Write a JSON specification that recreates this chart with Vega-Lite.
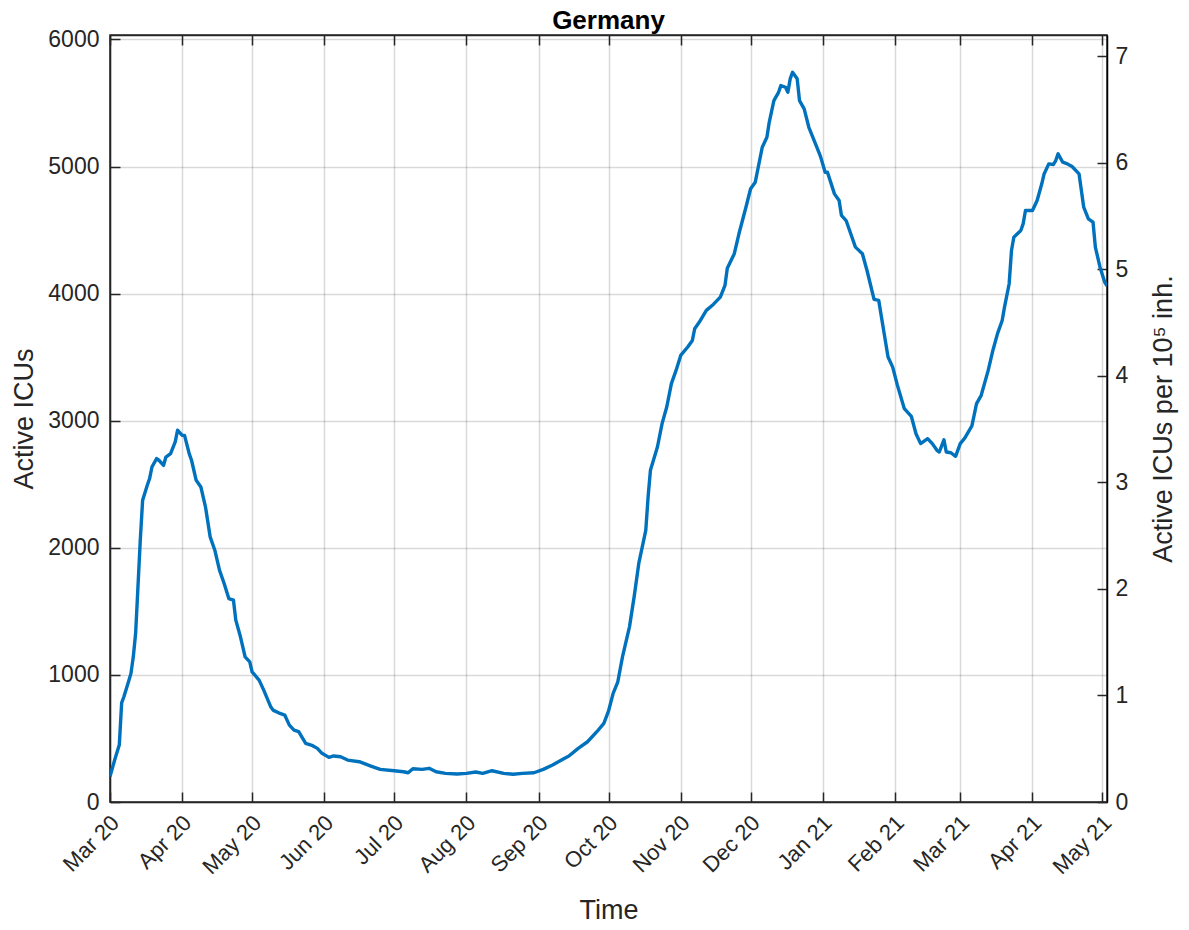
{
  "$schema": "https://vega.github.io/schema/vega-lite/v6.json",
  "width": 997,
  "height": 767,
  "autosize": {"type": "none"},
  "padding": {"left": 110, "top": 35, "right": 82, "bottom": 128},
  "background": "white",
  "title": {"text": "Germany", "fontSize": 26, "fontWeight": "bold", "color": "#000000", "font": "Liberation Sans", "offset": -6, "anchor": "middle"},
  "datasets": {
    "icu": [
      {"date": "2020-03-01", "icu": 200}, {"date": "2020-03-03", "icu": 330}, {"date": "2020-03-05", "icu": 450},
      {"date": "2020-03-06", "icu": 780}, {"date": "2020-03-07", "icu": 830}, {"date": "2020-03-09", "icu": 950},
      {"date": "2020-03-10", "icu": 1012}, {"date": "2020-03-11", "icu": 1142}, {"date": "2020-03-12", "icu": 1328},
      {"date": "2020-03-13", "icu": 1693}, {"date": "2020-03-14", "icu": 2060}, {"date": "2020-03-15", "icu": 2374},
      {"date": "2020-03-17", "icu": 2492}, {"date": "2020-03-18", "icu": 2545}, {"date": "2020-03-19", "icu": 2636},
      {"date": "2020-03-21", "icu": 2702}, {"date": "2020-03-22", "icu": 2689}, {"date": "2020-03-24", "icu": 2649},
      {"date": "2020-03-25", "icu": 2714}, {"date": "2020-03-27", "icu": 2741}, {"date": "2020-03-29", "icu": 2833},
      {"date": "2020-03-30", "icu": 2925}, {"date": "2020-04-01", "icu": 2885}, {"date": "2020-04-02", "icu": 2885},
      {"date": "2020-04-04", "icu": 2741}, {"date": "2020-04-05", "icu": 2689}, {"date": "2020-04-07", "icu": 2531},
      {"date": "2020-04-09", "icu": 2479}, {"date": "2020-04-11", "icu": 2321}, {"date": "2020-04-13", "icu": 2086},
      {"date": "2020-04-15", "icu": 1981}, {"date": "2020-04-17", "icu": 1824}, {"date": "2020-04-19", "icu": 1719},
      {"date": "2020-04-21", "icu": 1601}, {"date": "2020-04-23", "icu": 1588}, {"date": "2020-04-24", "icu": 1431},
      {"date": "2020-04-26", "icu": 1300}, {"date": "2020-04-28", "icu": 1142}, {"date": "2020-04-30", "icu": 1103},
      {"date": "2020-05-01", "icu": 1024}, {"date": "2020-05-04", "icu": 959}, {"date": "2020-05-06", "icu": 880},
      {"date": "2020-05-09", "icu": 749}, {"date": "2020-05-10", "icu": 723}, {"date": "2020-05-13", "icu": 697},
      {"date": "2020-05-15", "icu": 684}, {"date": "2020-05-17", "icu": 605}, {"date": "2020-05-19", "icu": 566},
      {"date": "2020-05-21", "icu": 553}, {"date": "2020-05-24", "icu": 461}, {"date": "2020-05-27", "icu": 443},
      {"date": "2020-05-29", "icu": 422}, {"date": "2020-05-31", "icu": 383}, {"date": "2020-06-03", "icu": 351},
      {"date": "2020-06-05", "icu": 362}, {"date": "2020-06-08", "icu": 356}, {"date": "2020-06-11", "icu": 330},
      {"date": "2020-06-16", "icu": 317}, {"date": "2020-06-21", "icu": 283}, {"date": "2020-06-25", "icu": 257},
      {"date": "2020-07-01", "icu": 246}, {"date": "2020-07-05", "icu": 238}, {"date": "2020-07-07", "icu": 230},
      {"date": "2020-07-09", "icu": 262}, {"date": "2020-07-13", "icu": 257}, {"date": "2020-07-16", "icu": 265},
      {"date": "2020-07-19", "icu": 238}, {"date": "2020-07-23", "icu": 225}, {"date": "2020-07-28", "icu": 220},
      {"date": "2020-08-01", "icu": 225}, {"date": "2020-08-05", "icu": 236}, {"date": "2020-08-08", "icu": 225},
      {"date": "2020-08-12", "icu": 246}, {"date": "2020-08-17", "icu": 225}, {"date": "2020-08-21", "icu": 218},
      {"date": "2020-08-25", "icu": 225}, {"date": "2020-08-30", "icu": 230}, {"date": "2020-09-03", "icu": 257},
      {"date": "2020-09-07", "icu": 291}, {"date": "2020-09-12", "icu": 343}, {"date": "2020-09-14", "icu": 362},
      {"date": "2020-09-18", "icu": 422}, {"date": "2020-09-22", "icu": 474}, {"date": "2020-09-26", "icu": 553},
      {"date": "2020-09-29", "icu": 619}, {"date": "2020-10-01", "icu": 715}, {"date": "2020-10-03", "icu": 855},
      {"date": "2020-10-05", "icu": 946}, {"date": "2020-10-07", "icu": 1142}, {"date": "2020-10-10", "icu": 1378},
      {"date": "2020-10-12", "icu": 1614}, {"date": "2020-10-14", "icu": 1877}, {"date": "2020-10-17", "icu": 2138},
      {"date": "2020-10-18", "icu": 2400}, {"date": "2020-10-19", "icu": 2610}, {"date": "2020-10-22", "icu": 2793},
      {"date": "2020-10-24", "icu": 2977}, {"date": "2020-10-26", "icu": 3108}, {"date": "2020-10-28", "icu": 3292},
      {"date": "2020-10-30", "icu": 3396}, {"date": "2020-11-01", "icu": 3514}, {"date": "2020-11-04", "icu": 3580},
      {"date": "2020-11-06", "icu": 3632}, {"date": "2020-11-07", "icu": 3724}, {"date": "2020-11-09", "icu": 3776},
      {"date": "2020-11-12", "icu": 3868}, {"date": "2020-11-15", "icu": 3915}, {"date": "2020-11-18", "icu": 3972},
      {"date": "2020-11-20", "icu": 4065}, {"date": "2020-11-21", "icu": 4200}, {"date": "2020-11-24", "icu": 4314},
      {"date": "2020-11-26", "icu": 4471}, {"date": "2020-11-29", "icu": 4680}, {"date": "2020-12-01", "icu": 4825},
      {"date": "2020-12-03", "icu": 4877}, {"date": "2020-12-04", "icu": 4969}, {"date": "2020-12-06", "icu": 5152},
      {"date": "2020-12-08", "icu": 5230}, {"date": "2020-12-09", "icu": 5348}, {"date": "2020-12-11", "icu": 5519},
      {"date": "2020-12-13", "icu": 5584}, {"date": "2020-12-14", "icu": 5637}, {"date": "2020-12-16", "icu": 5624},
      {"date": "2020-12-17", "icu": 5584}, {"date": "2020-12-18", "icu": 5690}, {"date": "2020-12-19", "icu": 5742},
      {"date": "2020-12-21", "icu": 5690}, {"date": "2020-12-22", "icu": 5519}, {"date": "2020-12-24", "icu": 5454},
      {"date": "2020-12-26", "icu": 5309}, {"date": "2020-12-28", "icu": 5218}, {"date": "2020-12-31", "icu": 5080},
      {"date": "2021-01-02", "icu": 4955}, {"date": "2021-01-03", "icu": 4955}, {"date": "2021-01-06", "icu": 4785},
      {"date": "2021-01-08", "icu": 4733}, {"date": "2021-01-09", "icu": 4615}, {"date": "2021-01-11", "icu": 4575},
      {"date": "2021-01-13", "icu": 4471}, {"date": "2021-01-15", "icu": 4366}, {"date": "2021-01-18", "icu": 4314},
      {"date": "2021-01-20", "icu": 4180}, {"date": "2021-01-23", "icu": 3955}, {"date": "2021-01-25", "icu": 3947},
      {"date": "2021-01-27", "icu": 3724}, {"date": "2021-01-29", "icu": 3501}, {"date": "2021-01-31", "icu": 3422},
      {"date": "2021-02-02", "icu": 3280}, {"date": "2021-02-05", "icu": 3095}, {"date": "2021-02-08", "icu": 3035},
      {"date": "2021-02-10", "icu": 2898}, {"date": "2021-02-12", "icu": 2820}, {"date": "2021-02-15", "icu": 2859},
      {"date": "2021-02-17", "icu": 2820}, {"date": "2021-02-19", "icu": 2767}, {"date": "2021-02-20", "icu": 2754},
      {"date": "2021-02-22", "icu": 2850}, {"date": "2021-02-23", "icu": 2754}, {"date": "2021-02-25", "icu": 2748},
      {"date": "2021-02-27", "icu": 2720}, {"date": "2021-03-01", "icu": 2820}, {"date": "2021-03-03", "icu": 2865},
      {"date": "2021-03-06", "icu": 2960}, {"date": "2021-03-08", "icu": 3134}, {"date": "2021-03-10", "icu": 3200},
      {"date": "2021-03-13", "icu": 3396}, {"date": "2021-03-15", "icu": 3553}, {"date": "2021-03-17", "icu": 3685},
      {"date": "2021-03-19", "icu": 3789}, {"date": "2021-03-20", "icu": 3894}, {"date": "2021-03-22", "icu": 4078},
      {"date": "2021-03-23", "icu": 4340}, {"date": "2021-03-24", "icu": 4444}, {"date": "2021-03-27", "icu": 4497},
      {"date": "2021-03-28", "icu": 4549}, {"date": "2021-03-29", "icu": 4654}, {"date": "2021-04-01", "icu": 4654},
      {"date": "2021-04-03", "icu": 4733}, {"date": "2021-04-05", "icu": 4864}, {"date": "2021-04-06", "icu": 4942},
      {"date": "2021-04-08", "icu": 5021}, {"date": "2021-04-10", "icu": 5016}, {"date": "2021-04-11", "icu": 5047},
      {"date": "2021-04-12", "icu": 5100}, {"date": "2021-04-14", "icu": 5034}, {"date": "2021-04-16", "icu": 5021},
      {"date": "2021-04-18", "icu": 5000}, {"date": "2021-04-21", "icu": 4942}, {"date": "2021-04-22", "icu": 4811},
      {"date": "2021-04-23", "icu": 4680}, {"date": "2021-04-25", "icu": 4589}, {"date": "2021-04-27", "icu": 4563},
      {"date": "2021-04-28", "icu": 4366}, {"date": "2021-04-30", "icu": 4208}, {"date": "2021-05-02", "icu": 4091},
      {"date": "2021-05-03", "icu": 4060}
    ],
    "rightscale": [{"per100k": 0}, {"per100k": 7.2}]
  },
  "layer": [
    {
      "data": {"name": "icu"},
      "mark": {"type": "line", "color": "#0072BD", "strokeWidth": 3.4, "clip": true, "strokeJoin": "round"},
      "encoding": {
        "x": {
          "field": "date", "type": "temporal",
          "scale": {"type": "utc", "domain": [{"year": 2020, "month": 3, "date": 1, "utc": true}, {"year": 2021, "month": 5, "date": 3, "utc": true}]},
          "axis": {
            "orient": "bottom", "title": "Time", "format": "%b %y",
            "values": [
              {"year": 2020, "month": 3, "date": 1, "utc": true}, {"year": 2020, "month": 4, "date": 1, "utc": true},
              {"year": 2020, "month": 5, "date": 1, "utc": true}, {"year": 2020, "month": 6, "date": 1, "utc": true},
              {"year": 2020, "month": 7, "date": 1, "utc": true}, {"year": 2020, "month": 8, "date": 1, "utc": true},
              {"year": 2020, "month": 9, "date": 1, "utc": true}, {"year": 2020, "month": 10, "date": 1, "utc": true},
              {"year": 2020, "month": 11, "date": 1, "utc": true}, {"year": 2020, "month": 12, "date": 1, "utc": true},
              {"year": 2021, "month": 1, "date": 1, "utc": true}, {"year": 2021, "month": 2, "date": 1, "utc": true},
              {"year": 2021, "month": 3, "date": 1, "utc": true}, {"year": 2021, "month": 4, "date": 1, "utc": true},
              {"year": 2021, "month": 5, "date": 1, "utc": true}
            ],
            "labelAngle": -45, "labelAlign": "right", "labelBaseline": "middle", "labelPadding": 27, "labelOffset": 5,
            "labelFontSize": 22, "labelFlush": false, "labelOverlap": false,
            "grid": true, "tickSize": -10, "titlePadding": 20
          }
        },
        "y": {
          "field": "icu", "type": "quantitative",
          "scale": {"domain": [0, 6035], "nice": false, "zero": true},
          "axis": {"orient": "left", "title": "Active ICUs", "values": [0, 1000, 2000, 3000, 4000, 5000, 6000], "format": "d",
                   "grid": true, "tickSize": -10, "labelPadding": 21, "titlePadding": 9}
        }
      }
    },
    {
      "data": {"name": "rightscale"},
      "mark": {"type": "point", "opacity": 0},
      "encoding": {
        "y": {
          "field": "per100k", "type": "quantitative",
          "scale": {"domain": [0, 7.2], "nice": false, "zero": true},
          "axis": {"orient": "right", "title": "Active ICUs per 10⁵ inh.", "values": [0, 1, 2, 3, 4, 5, 6, 7], "format": "d",
                   "grid": false, "tickSize": -10, "labelPadding": 18, "titleAngle": 270, "titleBaseline": "top", "titlePadding": 23,
                   "domainColor": "#000000"}
        }
      }
    },
    {
      "data": {"name": "icu"},
      "mark": {"type": "line", "opacity": 0},
      "encoding": {
        "x": {
          "field": "date", "type": "temporal",
          "axis": {
            "orient": "top", "title": null, "labels": false, "grid": false, "tickSize": -10, "domain": true,
            "values": [
              {"year": 2020, "month": 3, "date": 1, "utc": true}, {"year": 2020, "month": 4, "date": 1, "utc": true},
              {"year": 2020, "month": 5, "date": 1, "utc": true}, {"year": 2020, "month": 6, "date": 1, "utc": true},
              {"year": 2020, "month": 7, "date": 1, "utc": true}, {"year": 2020, "month": 8, "date": 1, "utc": true},
              {"year": 2020, "month": 9, "date": 1, "utc": true}, {"year": 2020, "month": 10, "date": 1, "utc": true},
              {"year": 2020, "month": 11, "date": 1, "utc": true}, {"year": 2020, "month": 12, "date": 1, "utc": true},
              {"year": 2021, "month": 1, "date": 1, "utc": true}, {"year": 2021, "month": 2, "date": 1, "utc": true},
              {"year": 2021, "month": 3, "date": 1, "utc": true}, {"year": 2021, "month": 4, "date": 1, "utc": true},
              {"year": 2021, "month": 5, "date": 1, "utc": true}
            ]
          }
        },
        "y": {
          "field": "icu", "type": "quantitative",
          "scale": {"domain": [0, 6035], "nice": false},
          "axis": null
        }
      }
    }
  ],
  "resolve": {"scale": {"y": "independent"}, "axis": {"y": "independent", "x": "independent"}},
  "config": {
    "font": "Liberation Sans",
    "view": {"stroke": "#262626", "strokeWidth": 1.5},
    "axis": {
      "labelFont": "Liberation Sans", "labelFontSize": 23, "labelColor": "#262626",
      "titleFont": "Liberation Sans", "titleFontSize": 27, "titleFontWeight": "normal", "titleColor": "#262626",
      "domainColor": "#262626", "domainWidth": 1.5, "tickColor": "#262626", "tickWidth": 1.5,
      "gridColor": "#000000", "gridOpacity": 0.15, "gridWidth": 1.5
    }
  }
}
